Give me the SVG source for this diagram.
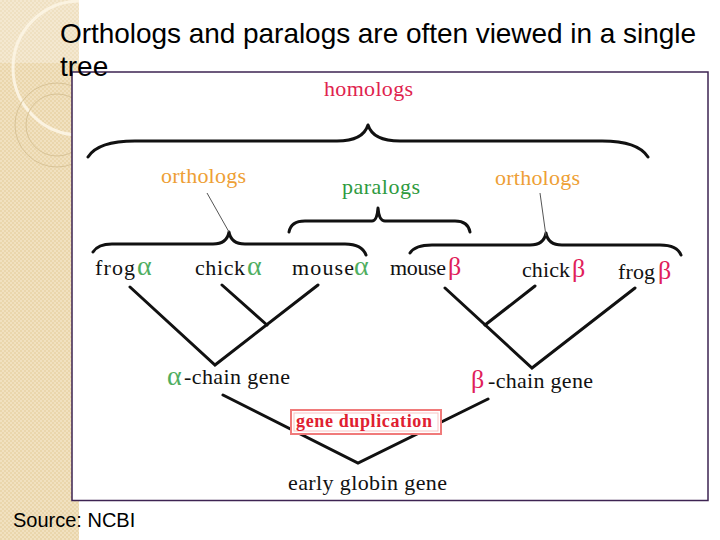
<svg xmlns="http://www.w3.org/2000/svg" width="720" height="540" viewBox="0 0 720 540">
<defs>
<pattern id="tex" width="4" height="4" patternUnits="userSpaceOnUse">
<rect width="4" height="4" fill="#ead6ac"/>
<rect width="2" height="2" fill="#f1e1c0"/>
<rect x="2" y="2" width="2" height="2" fill="#f1e1c0"/>
</pattern>
<clipPath id="bandclip"><rect x="0" y="0" width="79" height="540"/></clipPath>
<style>
.lbl{font-family:"Liberation Serif","Times New Roman",serif;font-size:22px;fill:#111}
.cat{font-family:"Liberation Serif","Times New Roman",serif;font-size:22px}
.al{font-family:"Liberation Serif","Times New Roman",serif;font-size:28px;fill:#4fae5f}
.be{font-family:"Liberation Serif","Times New Roman",serif;font-size:26px;fill:#e0205a}
.ln{stroke:#111;stroke-width:3;fill:none;stroke-linecap:round}
.br{stroke:#111;stroke-width:3;fill:none;stroke-linecap:round;stroke-linejoin:round}
.ptr{stroke:#555;stroke-width:1;fill:none}
.slide{font-family:"Liberation Sans",Arial,sans-serif;fill:#000}
</style>
</defs>
<rect width="720" height="540" fill="#fff"/>
<g id="band" clip-path="url(#bandclip)">
<rect x="0" y="0" width="79" height="540" fill="url(#tex)"/>
<rect x="0" y="0" width="79" height="63" fill="#fff" opacity="0.25"/>
<circle cx="80" cy="68" r="67" fill="none" stroke="#fbf3e1" stroke-width="3"/>
<circle cx="57" cy="125" r="42" fill="none" stroke="#d8c397" stroke-width="1"/>
<circle cx="57" cy="125" r="31" fill="none" stroke="#d8c397" stroke-width="1"/>
</g>
<rect id="frame" x="72" y="72" width="636" height="428.5" fill="#fff" stroke="#3d2352" stroke-width="1.5"/>
<text class="slide" x="60" y="43" font-size="28" textLength="636" lengthAdjust="spacing">Orthologs and paralogs are often viewed in a single</text>
<text class="slide" x="60" y="76" font-size="28">tree</text>
<text class="slide" x="13" y="527" font-size="20">Source: NCBI</text>

<g id="connectors">
<path class="br" d="M88,157 Q98,141 135,141 L337,141 Q363,141 368,125 Q373,141 400,141 L602,141 Q638,141 648,157"/>
<path class="br" d="M93,252 Q98,244 112,244 L213,244 Q227,244 229,232 Q231,244 245,244 L345,244 Q362,244 366,255"/>
<path class="br" d="M289,232 Q291,221 305,221 L372,221 Q377,221 378,208 Q379,221 385,221 L455,221 Q468,221 470,232"/>
<path class="br" d="M410,253 Q415,245 432,245 L530,245 Q544,245 546,233 Q548,245 562,245 L660,245 Q677,245 681,255"/>
<line class="ptr" x1="207" y1="193" x2="229" y2="232"/>
<line class="ptr" x1="540" y1="193" x2="546" y2="236"/>
<polyline class="ln" points="130,287 215,365 318,285"/>
<line class="ln" x1="222" y1="285" x2="267" y2="325"/>
<polyline class="ln" points="445,288 532,368 635,288"/>
<line class="ln" x1="535" y1="286" x2="485" y2="325"/>
<polyline class="ln" points="223,395 358,463 488,399"/>
</g>

<g id="homologs"><text class="cat" x="324" y="96" fill="#e0234e" textLength="89" lengthAdjust="spacing">homologs</text></g>
<g id="orthologs-left"><text class="cat" x="161" y="183" fill="#eea035" textLength="85" lengthAdjust="spacing">orthologs</text></g>
<g id="orthologs-right"><text class="cat" x="495" y="185" fill="#eea035" textLength="85" lengthAdjust="spacing">orthologs</text></g>
<g id="paralogs"><text class="cat" x="342" y="194" fill="#2e9a3e" textLength="78" lengthAdjust="spacing">paralogs</text></g>

<g id="frog-alpha"><text class="lbl" x="95" y="275" textLength="40" lengthAdjust="spacing">frog</text><text class="al" x="137" y="275">α</text></g>
<g id="chick-alpha"><text class="lbl" x="195" y="275" textLength="50" lengthAdjust="spacing">chick</text><text class="al" x="247" y="275">α</text></g>
<g id="mouse-alpha"><text class="lbl" x="292" y="275" textLength="62" lengthAdjust="spacing">mouse</text><text class="al" x="354" y="275">α</text></g>
<g id="mouse-beta"><text class="lbl" x="390" y="275" textLength="56" lengthAdjust="spacing">mouse</text><text class="be" x="448" y="275">β</text></g>
<g id="chick-beta"><text class="lbl" x="522" y="277" textLength="48" lengthAdjust="spacing">chick</text><text class="be" x="572" y="277">β</text></g>
<g id="frog-beta"><text class="lbl" x="618" y="279" textLength="37" lengthAdjust="spacing">frog</text><text class="be" x="658" y="279">β</text></g>

<g id="alpha-chain"><text class="al" x="167" y="385">α</text><text class="lbl" x="184" y="384" textLength="106" lengthAdjust="spacing">-chain gene</text></g>
<g id="beta-chain"><text class="be" x="471" y="388">β</text><text class="lbl" x="488" y="388" textLength="105" lengthAdjust="spacing">-chain gene</text></g>

<g id="gene-duplication">
<rect x="291" y="410" width="150" height="24" fill="#fff" stroke="#f07a7a" stroke-width="2"/>
<rect x="294" y="413" width="144" height="18" fill="none" stroke="#f9c4c4" stroke-width="1"/>
<text x="296" y="427" font-family="'Liberation Serif','Times New Roman',serif" font-size="18" font-weight="bold" fill="#e02030" textLength="136" lengthAdjust="spacing">gene duplication</text>
</g>
<g id="early-globin"><text class="lbl" x="288" y="490" textLength="159" lengthAdjust="spacing">early globin gene</text></g>
</svg>
